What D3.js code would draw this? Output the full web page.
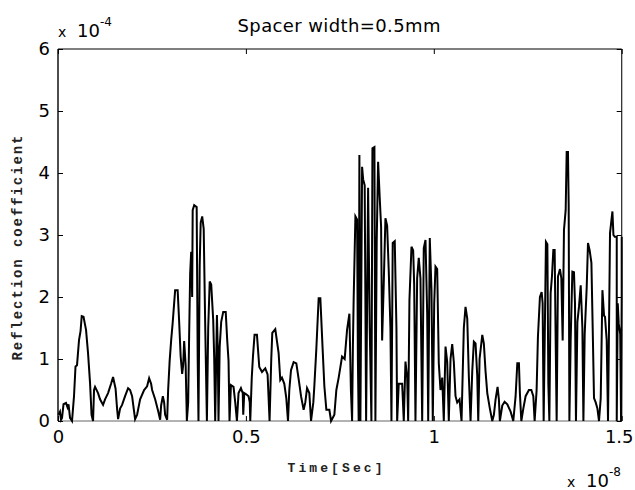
<!DOCTYPE html>
<html><head><meta charset="utf-8">
<script src="https://cdn.jsdelivr.net/npm/d3@7"></script>
<style>body{margin:0;background:#fff} svg{display:block}</style>
</head><body>
<svg id="c" width="635" height="490"></svg>
<script>
// Time in units of 1e-8 s
const timeE8 = [
0.0013,0.0053,0.0080,0.0107,0.0147,0.0213,0.0253,0.0280,0.0320,0.0373,
0.0426,0.0466,0.0506,0.0560,0.0600,0.0631,0.0679,0.0746,0.0799,0.0853,
0.0893,0.0933,0.0959,0.0986,0.1066,0.1119,0.1199,0.1252,0.1332,0.1412,
0.1465,0.1532,0.1572,0.1599,0.1652,0.1705,0.1785,0.1865,0.1918,0.1972,
0.2025,0.2052,0.2105,0.2185,0.2291,0.2371,0.2425,0.2478,0.2505,0.2585,
0.2665,0.2718,0.2744,0.2790,0.2824,0.2851,0.2904,0.2931,0.2971,0.3011,
0.3051,0.3091,0.3117,0.3184,0.3224,0.3264,0.3304,0.3331,0.3357,0.3397,
0.3429,
0.3464,0.3490,0.3517,0.3544,0.3570,0.3584,0.3624,0.3690,0.3717,0.3738,
0.3770,0.3797,0.3837,0.3877,0.3917,0.3962,0.3997,0.4037,0.4077,0.4130,
0.4157,0.4183,0.4229,0.4250,0.4271,0.4303,0.4343,0.4396,0.4463,0.4503,
0.4538,0.4564,0.4602,0.4671,0.4716,0.4761,0.4804,0.4868,0.4916,0.4929,
0.4956,0.5009,0.5071,0.5103,0.5116,0.5156,0.5188,0.5230,0.5294,0.5356,
0.5428,0.5516,0.5577,0.5609,0.5630,0.5675,0.5702,0.5782,0.5870,0.5915,
0.5960,0.6022,0.6075,0.6120,0.6155,0.6200,0.6270,0.6342,0.6403,0.6467,
0.6536,0.6581,0.6627,0.6688,0.6733,0.6794,0.6821,0.6874,0.6936,0.6981,
0.7042,0.7088,0.7141,0.7221,0.7266,0.7354,0.7407,0.7469,0.7559,0.7628,
0.7692,0.7754,0.7794,0.7826,0.7847,0.7868,0.7914,0.7959,0.7980,0.8001,
0.8020,0.8047,0.8092,0.8119,0.8161,0.8199,0.8252,0.8295,0.8340,0.8367,
0.8420,0.8446,0.8481,0.8518,0.8561,0.8598,0.8625,0.8668,0.8713,0.8758,
0.8801,0.8846,0.8873,0.8907,0.8961,0.9006,0.9025,0.9067,0.9158,0.9201,
0.9246,0.9291,0.9318,0.9352,0.9406,0.9451,0.9478,0.9512,0.9557,0.9600,
0.9645,0.9691,0.9733,0.9779,0.9824,0.9851,0.9893,0.9939,0.9973,1.0011,
1.0045,1.0090,1.0133,1.0178,1.0224,1.0266,1.0312,1.0357,1.0399,1.0445,
1.0490,1.0533,1.0578,1.0623,1.0685,1.0738,1.0799,1.0844,1.0890,1.0932,
1.0978,1.1023,1.1066,1.1111,1.1156,1.1183,1.1218,1.1290,1.1332,1.1377,
1.1423,1.1492,1.1556,1.1599,1.1644,1.1697,1.1732,1.1758,1.1822,1.1884,
1.1956,1.2044,1.2115,1.2177,1.2222,1.2265,1.2291,1.2329,1.2382,1.2443,
1.2531,1.2595,1.2648,1.2683,1.2736,1.2771,1.2824,1.2870,1.2896,1.2923,
1.2950,1.2984,1.3022,1.3048,1.3075,1.3109,1.3144,1.3181,1.3216,1.3243,
1.3269,1.3304,1.3357,1.3394,1.3429,1.3464,1.3509,1.3536,1.3570,1.3589,
1.3608,1.3642,1.3687,1.3730,1.3757,1.3783,1.3821,1.3863,1.3909,1.3954,
1.3981,1.4015,1.4069,1.4103,1.4148,1.4194,1.4228,1.4263,1.4308,1.4354,
1.4396,1.4442,1.4487,1.4530,1.4556,1.4601,1.4636,1.4689,1.4753,1.4780,
1.4815,1.4868,1.4868,1.4895,1.4921,1.4961,1.4983,1.5000,1.5000
];
// Reflection coefficient in units of 1e-4
const reflE4 = [
0.10,0.15,0.02,0.05,0.27,0.29,0.22,0.27,0.05,0.00,
0.40,0.88,0.90,1.31,1.45,1.69,1.68,1.47,1.10,0.61,
0.10,0.00,0.50,0.55,0.45,0.35,0.26,0.35,0.45,0.60,
0.71,0.52,0.20,0.03,0.20,0.26,0.40,0.53,0.50,0.40,
0.15,0.03,0.10,0.35,0.50,0.56,0.69,0.60,0.50,0.35,
0.16,0.02,0.25,0.40,0.30,0.10,0.02,0.50,0.97,1.30,
1.58,1.90,2.11,2.11,1.60,1.04,0.76,0.90,1.29,0.90,
0.00,
0.30,1.40,2.38,2.73,2.00,3.40,3.48,3.45,1.00,0.00,
2.50,3.20,3.30,3.10,1.55,0.00,1.50,2.25,2.20,1.63,
1.00,0.00,1.71,1.20,0.00,1.20,1.60,1.76,1.76,1.30,
0.97,0.00,0.58,0.55,0.30,0.00,0.45,0.53,0.45,0.10,
0.45,0.43,0.40,0.30,0.00,0.70,1.04,1.39,1.39,0.87,
0.79,0.85,0.75,0.30,0.00,1.00,1.42,1.48,1.10,0.66,
0.70,0.60,0.37,0.00,0.50,0.82,0.95,0.93,0.68,0.40,
0.18,0.30,0.53,0.45,0.00,0.30,0.56,1.16,1.98,1.98,
1.16,0.56,0.18,0.18,0.00,0.10,0.50,0.70,1.04,1.00,
1.47,1.73,0.50,0.00,1.20,1.98,3.30,3.25,1.00,0.00,
4.29,0.00,4.10,3.90,3.80,0.00,3.76,1.50,0.00,4.40,
4.42,0.00,2.92,4.18,3.60,3.13,1.30,2.22,3.27,3.15,
2.43,1.50,0.00,2.87,2.90,1.50,0.00,0.60,0.60,0.00,
0.96,0.70,0.00,1.95,2.81,2.75,2.20,0.00,2.30,2.63,
2.30,0.00,2.79,2.92,1.73,0.00,2.95,2.10,0.00,1.90,
2.49,2.45,0.93,0.50,0.70,0.00,1.20,0.95,0.00,1.00,
1.24,0.95,0.40,0.30,0.35,0.00,1.50,1.84,1.65,0.73,
0.00,0.80,1.28,1.25,0.73,0.00,1.00,1.39,1.25,0.80,
0.45,0.20,0.00,0.10,0.35,0.55,0.35,0.00,0.25,0.31,
0.27,0.15,0.00,0.40,0.93,0.93,0.45,0.00,0.20,0.40,
0.50,0.50,0.40,0.00,0.50,1.36,2.00,2.08,1.90,0.00,
1.25,2.89,2.85,0.60,0.00,2.06,2.33,2.76,2.76,1.30,
0.00,2.33,2.45,2.30,1.30,3.08,3.40,4.34,4.34,3.50,
0.00,1.30,2.41,2.40,1.90,0.00,1.60,1.84,2.19,1.50,
0.00,1.40,2.16,2.87,2.75,2.55,1.50,0.37,0.30,0.20,
0.00,0.37,2.11,1.70,1.68,1.30,0.00,3.03,3.38,3.00,
2.97,2.97,0.00,1.90,1.57,1.40,0.00,2.00,2.97
];
const xTicks = [0, 0.5, 1, 1.5];
const yTicks = [0, 1, 2, 3, 4, 5, 6];
const titleText = "Spacer width=0.5mm";
const xLabelText = "Time[Sec]";
const yLabelText = "Reflection coefficient";
const xExponent = "-8";
const yExponent = "-4";

const svg = d3.select("#c");
const L = 58, R = 621.7, T = 49, B = 421;
const x = d3.scaleLinear().domain([0, 1.5]).range([L, R]);
const y = d3.scaleLinear().domain([0, 6]).range([B, T]);
const numFont = "DejaVu Sans, sans-serif";

const pts = timeE8.map((t, i) => [t, reflE4[i]]);

// frame
svg.append("line").attr("x1", L).attr("x2", R).attr("y1", T).attr("y2", T).attr("stroke", "#000").attr("stroke-width", 1.2);
svg.append("line").attr("x1", L).attr("x2", L).attr("y1", T).attr("y2", B).attr("stroke", "#000").attr("stroke-width", 1.4);
svg.append("line").attr("x1", R).attr("x2", R).attr("y1", T).attr("y2", B).attr("stroke", "#222").attr("stroke-width", 1.2);
svg.append("line").attr("x1", L).attr("x2", R).attr("y1", B).attr("y2", B).attr("stroke", "#999").attr("stroke-width", 1.4);

// data line
svg.append("path").datum(pts)
  .attr("fill", "none").attr("stroke", "#000").attr("stroke-width", 2)
  .attr("stroke-linejoin", "miter")
  .attr("d", d3.line().x(d => x(d[0])).y(d => y(d[1])));

function styleAxis(g) {
  g.select(".domain").remove();
  g.selectAll(".tick line").attr("stroke", "#000").attr("stroke-width", 1);
  g.selectAll(".tick text").attr("font-family", numFont).attr("font-size", 18).attr("fill", "#000");
}
svg.append("g").attr("transform", `translate(0,${B})`)
  .call(d3.axisBottom(x).tickValues(xTicks).tickSize(-5).tickPadding(9).tickFormat(d3.format("")))
  .call(styleAxis)
  .call(g => g.selectAll(".tick text").filter(d => d === 1.5).attr("dx", -3));
svg.append("g").attr("transform", `translate(0,${T})`)
  .call(d3.axisTop(x).tickValues(xTicks).tickSize(-5).tickFormat(""))
  .call(styleAxis);
svg.append("g").attr("transform", `translate(${L},0)`)
  .call(d3.axisLeft(y).tickValues(yTicks).tickSize(-5).tickPadding(8).tickFormat(d3.format("d")))
  .call(styleAxis);
svg.append("g").attr("transform", `translate(${R},0)`)
  .call(d3.axisRight(y).tickValues(yTicks).tickSize(-5).tickFormat(""))
  .call(styleAxis);

// title
svg.append("text").attr("x", 339).attr("y", 32).attr("text-anchor", "middle")
  .attr("font-family", numFont).attr("font-size", 18).attr("textLength", 203)
  .text(titleText);

// exponent labels
function expo(x0, yb, exp) {
  const g = svg.append("g").attr("font-family", numFont).attr("fill", "#000");
  g.append("text").attr("x", x0).attr("y", yb).attr("font-size", 14).text("x");
  g.append("text").attr("x", x0 + 19).attr("y", yb).attr("font-size", 18).text("10");
  g.append("text").attr("x", x0 + 42).attr("y", yb - 11).attr("font-size", 12).text(exp);
}
expo(58, 37, yExponent);
expo(567, 487, xExponent);

// axis labels
svg.append("text").attr("x", 335).attr("y", 472).attr("text-anchor", "middle")
  .attr("font-family", "Liberation Mono, monospace").attr("font-weight", "bold").attr("font-size", 13)
  .attr("fill", "#222").attr("textLength", 95).text(xLabelText);
svg.append("text").attr("transform", "translate(22,248) rotate(-90)").attr("text-anchor", "middle")
  .attr("font-family", "Liberation Mono, monospace").attr("font-weight", "bold").attr("font-size", 14)
  .attr("fill", "#222").attr("textLength", 225).text(yLabelText);
</script>
</body></html>
